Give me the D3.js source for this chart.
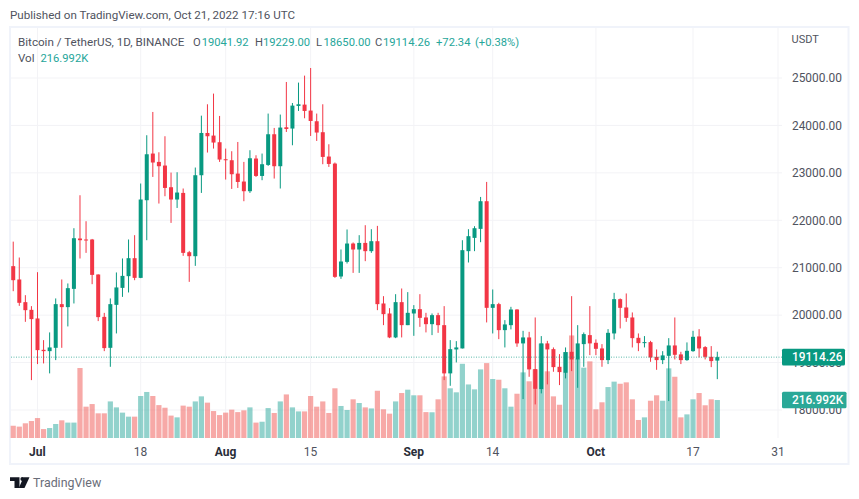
<!DOCTYPE html>
<html><head><meta charset="utf-8">
<script src="https://cdnjs.cloudflare.com/ajax/libs/d3/7.8.5/d3.min.js"></script>
<style>html,body{margin:0;padding:0;background:#fff}svg{display:block}text{font-family:Roboto,"Liberation Sans",sans-serif}</style>
</head><body><div id="chart"></div>
<script>
const startDate = "2022-06-27";
const opens = [21033,20752,20274,20112,19930,19269,19241,19311,20232,20169,20554,21616,21595,21595,20857,19964,19311,20217,20575,20822,21201,20786,22423,23407,23231,23154,22697,22438,22577,21327,21243,22950,23841,23786,23646,23287,23266,22985,22817,22613,23302,22935,23167,23814,23140,23961,23934,24411,24439,24313,24088,23857,23344,23196,20815,21123,21510,21384,21523,21349,21559,20246,20035,19530,20274,19789,20035,20126,19951,19810,20000,19789,18772,19277,19298,21349,21629,21819,22402,20154,20232,19684,19789,20119,19404,19530,18862,18441,19404,19283,18911,18785,19227,19066,19389,19579,19417,19298,19052,19614,20337,20162,19951,19522,19410,19431,19121,19052,19142,19361,19172,19052,19241,19551,19326,19121,19041.92];
const closes = [20737,20260,20105,19916,19262,19241,19319,20232,20169,20569,21622,21580,21580,20849,19958,19305,20232,20584,20828,21201,20786,22438,23392,23218,23140,22682,22438,22585,21313,21243,22950,23841,23772,23639,23281,23266,22971,22808,22613,23308,22935,23182,23814,23140,23955,23925,24418,24446,24305,24094,23850,23336,23188,20807,21131,21510,21384,21523,21349,21559,20232,20021,19530,20274,19789,20049,20126,19943,19810,20000,19789,18772,19283,19319,21370,21665,21833,22402,20154,20232,19684,19804,20119,19404,19530,18856,18447,19404,19277,18904,18799,19220,19066,19404,19600,19404,19290,19052,19627,20337,20154,19943,19515,19410,19431,19108,19052,19151,19361,19164,19052,19248,19543,19298,19121,19031,19114.26];
const highs = [21550,21215,20421,20190,20906,19473,19636,20352,20752,20668,21833,22528,21980,21607,20860,20048,20352,20900,21195,21595,21686,22775,23793,24284,23434,23772,23006,23013,22670,21355,23112,24206,24446,24671,24200,23512,23456,23651,23231,23477,23371,23407,24250,23947,24229,24916,24473,24903,25050,25211,24250,24446,23603,23218,21384,21806,21532,21686,21896,21812,21882,20400,20147,20442,20562,20485,20211,20442,20049,20035,20049,20190,19473,19452,21580,21812,21875,22492,22809,20541,20260,19895,20175,20126,19669,19648,19951,19558,19458,19319,19178,19319,20400,19789,19635,20190,19488,19389,19705,20470,20352,20457,20057,19614,19558,19458,19277,19241,19515,19951,19227,19425,19669,19705,19347,19347,19229];
const lows = [20505,20196,19859,18630,18968,18982,18772,19052,19311,19762,20246,21194,21313,20653,19874,19241,18911,19614,20385,20478,20737,20780,21580,22914,22353,22507,21945,22260,21250,20702,21039,22577,23428,23512,23231,22859,22661,22682,22402,22577,22914,22845,23146,22880,22670,23862,23582,24305,24151,23778,23673,23182,23125,20786,20765,21089,20891,20891,21138,21313,20105,19789,19515,19515,19530,19789,19564,19753,19636,19579,19627,18630,18510,19003,19298,21110,21349,21538,19846,19614,19494,19319,19699,19332,18230,18700,18118,18350,18540,18806,18525,18666,18820,18468,18911,19157,19157,18911,18968,19488,19720,19859,19319,19241,19319,19016,18847,18968,18188,19066,18968,19037,19227,19108,19066,18904,18650];
const volumes = [70,65,84,97,114,51,57,80,101,88,88,400,179,194,141,141,209,175,145,122,122,240,263,240,188,173,128,118,185,179,209,238,202,154,131,145,162,148,158,175,88,93,171,143,209,249,175,152,152,240,179,209,143,284,183,160,221,200,175,169,270,164,139,209,257,276,244,244,148,147,221,352,284,261,424,306,278,392,428,337,333,284,179,253,375,324,392,539,381,238,190,491,586,453,402,438,164,204,291,322,310,318,221,103,118,213,244,213,398,350,118,135,221,257,187,221,216.992];
const priceTicks = [25000,24000,23000,22000,21000,20000,19000,18000];
const timeTickDates = ["2022-07-01","2022-07-18","2022-08-01","2022-08-15","2022-09-01","2022-09-14","2022-10-01","2022-10-17","2022-10-31"];
const timeTickLabels = ["Jul","18","Aug","15","Sep","14","Oct","17","31"];
const monthLabels = ["Jul","Aug","Sep","Oct"];
const lastPrice = 19114.26, lastVolume = 216.992;
const publishedText = "Published on TradingView.com, Oct 21, 2022 17:16 UTC";
const titleText = "Bitcoin / TetherUS, 1D, BINANCE";
const ohlcItems = [["O","19041.92",193,201.7],["H","19229.00",255,263],["L","18650.00",316,323.5],["C","19114.26",375,383]];
const GREEN="#089981", RED="#f23645", TEXT="#50535e", TEAL="#26a69a", GRID="#f3f3f6";

const W=859,H=499;
const svg=d3.select("#chart").append("svg").attr("width",W).attr("height",H);
const parse=d3.utcParse("%Y-%m-%d");
const dates=opens.map((_,i)=>d3.utcDay.offset(parse(startDate),i));
const x=d3.scaleUtc().domain([parse("2022-07-01"),parse("2022-10-31")]).range([37.5,778]);
const y=d3.scaleLinear().domain([18000,25000]).range([410,78]);
const yV=d3.scaleLinear().domain([0,600]).range([438,333]);

// frame
svg.append("rect").attr("x",10).attr("y",27).attr("width",838.5).attr("height",437).attr("fill","none").attr("stroke","#f0f3fa").attr("stroke-width",2);

// grid
const gy=svg.append("g").attr("transform","translate(782,0)")
  .call(d3.axisRight(y).tickValues(priceTicks).tickSize(0).tickPadding(10).tickFormat(d3.format(".2f")));
gy.select(".domain").remove();
gy.selectAll("text").attr("font-size",11.9).attr("fill",TEXT).style("font-family","Roboto");
svg.append("g").selectAll("line").data(priceTicks).join("line")
  .attr("x1",11).attr("x2",782).attr("y1",d=>y(d)).attr("y2",d=>y(d)).attr("stroke",GRID);
svg.append("g").selectAll("line").data(timeTickDates).join("line")
  .attr("x1",d=>x(parse(d))).attr("x2",d=>x(parse(d))).attr("y1",28).attr("y2",438).attr("stroke",GRID);
const gx=svg.append("g").attr("transform","translate(-0.6,438)")
  .call(d3.axisBottom(x).tickValues(timeTickDates.map(parse)).tickSize(0).tickPadding(9).tickFormat((d,i)=>timeTickLabels[i]));
gx.select(".domain").remove();
gx.selectAll("text").attr("font-size",12).attr("fill",TEXT)
  .attr("font-weight",function(){return monthLabels.includes(d3.select(this).text())?"700":"400"})
  .attr("fill",function(){return monthLabels.includes(d3.select(this).text())?"#2a2e39":TEXT});

// volume
const idx=d3.range(opens.length);
svg.append("g").selectAll("rect").data(idx).join("rect")
  .attr("x",i=>x(dates[i])-2.6).attr("width",5.2)
  .attr("y",i=>yV(volumes[i])).attr("height",i=>yV(0)-yV(volumes[i]))
  .attr("fill",i=>closes[i]>=opens[i]?"rgba(38,166,154,.5)":"rgba(239,83,80,.5)");

// candles
const c=svg.append("g").selectAll("g").data(idx).join("g");
c.append("line").attr("x1",i=>x(dates[i])).attr("x2",i=>x(dates[i]))
  .attr("y1",i=>y(highs[i])).attr("y2",i=>y(lows[i]))
  .attr("stroke",i=>closes[i]>=opens[i]?GREEN:RED).attr("stroke-width",1);
c.append("rect").attr("x",i=>x(dates[i])-2).attr("width",4)
  .attr("y",i=>y(Math.max(opens[i],closes[i])))
  .attr("height",i=>Math.max(1,Math.abs(y(opens[i])-y(closes[i]))))
  .attr("fill",i=>closes[i]>=opens[i]?GREEN:RED);

// last price line
svg.append("line").attr("x1",11).attr("x2",782).attr("y1",y(lastPrice)).attr("y2",y(lastPrice))
  .attr("stroke",GREEN).attr("stroke-width",1).attr("stroke-dasharray","1 1.5").attr("opacity",.65);

// value labels
function tag(cy,w,fill,txt){
  svg.append("rect").attr("x",782).attr("y",cy-8.3).attr("width",w).attr("height",16.6).attr("rx",1.5).attr("fill",fill);
  svg.append("text").attr("x",792).attr("y",cy+4.2).attr("font-size",11.9).attr("font-weight",500).attr("fill","#fff").text(txt);
}
tag(y(lastPrice),63,GREEN,d3.format(".2f")(lastPrice));
tag(yV(lastVolume),64.5,"#2aa897",lastVolume.toFixed(3)+"K");

// text
svg.append("text").attr("x",10).attr("y",19).attr("font-size",11.6).attr("fill",TEXT).text(publishedText);
svg.append("text").attr("x",791.5).attr("y",43).attr("font-size",11).attr("fill",TEXT).text("USDT");
svg.append("text").attr("x",18).attr("y",46).attr("font-size",11.65).attr("fill",TEXT).text(titleText);
ohlcItems.forEach(([k,v,kx,vx])=>{
  svg.append("text").attr("x",kx).attr("y",46).attr("font-size",11.2).attr("fill",TEXT).text(k);
  svg.append("text").attr("x",vx).attr("y",46).attr("font-size",11.2).attr("fill",TEAL).text(v);
});
svg.append("text").attr("x",436).attr("y",46).attr("font-size",11.2).attr("fill",TEAL).text("+72.34");
svg.append("text").attr("x",475).attr("y",46).attr("font-size",11.2).attr("fill",TEAL).text("(+0.38%)");
svg.append("text").attr("x",18).attr("y",62).attr("font-size",11.6).attr("fill",TEXT).text("Vol");
svg.append("text").attr("x",40.5).attr("y",62).attr("font-size",11.2).attr("fill",TEAL).text(lastVolume.toFixed(3)+"K");

// logo
const logo=svg.append("g").attr("fill","#131722");
logo.append("path").attr("d","M10 477.3H19.5V488H14.5V481H10Z");
logo.append("circle").attr("cx",22.3).attr("cy",479).attr("r",1.9);
logo.append("path").attr("d","M23.5 477.3H29.5L24.5 488H18.8Z");
svg.append("text").attr("x",33).attr("y",487).attr("font-size",12.4).attr("fill","#6a6d78").text("TradingView");
</script></body></html>
